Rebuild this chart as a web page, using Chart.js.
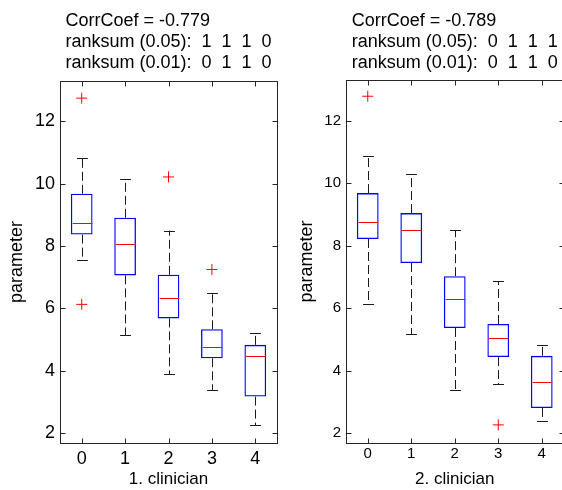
<!DOCTYPE html>
<html>
<head>
<meta charset="utf-8">
<script src="https://cdn.jsdelivr.net/npm/chart.js@4.4.1/dist/chart.umd.min.js"></script>
<style>
  html, body { margin: 0; padding: 0; background: #fff; overflow: hidden; width: 562px; height: 490px; }
  canvas { position: absolute; top: 0; }
  #left  { left: 0; }
  #right { left: 290px; }
</style>
</head>
<body>
<canvas id="left" width="290" height="490"></canvas>
<canvas id="right" width="280" height="490"></canvas>
<script>
const CATEGORIES = ["0", "1", "2", "3", "4"]
const FONT = "'Liberation Sans', Arial, sans-serif"

// 1. clinician
const c1Text   = ["CorrCoef = -0.779", "ranksum (0.05):  1  1  1  0", "ranksum (0.01):  0  1  1  0"]
const c1Low    = [7.54, 5.14, 3.89, 3.38, 2.25]
const c1Q1     = [8.37, 7.06, 5.68, 4.40, 3.17]
const c1Median = [8.75, 8.08, 6.35, 4.75, 4.47]
const c1Q3     = [9.68, 8.91, 7.08, 5.33, 4.83]
const c1High   = [10.83, 10.16, 8.50, 6.51, 5.21]
const c1OutCat = ["0", "0", "2", "3"]
const c1OutVal = [12.75, 6.13, 10.22, 7.25]

// 2. clinician
const c2Text   = ["CorrCoef = -0.789", "ranksum (0.05):  0  1  1  1", "ranksum (0.01):  0  1  1  0"]
const c2Low    = [6.13, 5.17, 3.38, 3.57, 2.38]
const c2Q1     = [8.21, 7.44, 5.36, 4.43, 2.80]
const c2Median = [8.75, 8.50, 6.29, 5.04, 3.63]
const c2Q3     = [9.68, 9.04, 7.02, 5.49, 4.47]
const c2High   = [10.86, 10.29, 8.50, 6.86, 4.83]
const c2OutCat = ["0", "3"]
const c2OutVal = [12.78, 2.26]

// whiskers, caps and median lines, placed through the chart scales
const boxExtras = {
  id: "boxExtras",
  afterDatasetsDraw(chart, args, opts) {
    const { ctx, scales: { x, y } } = chart
    const step = x.getPixelForValue(1) - x.getPixelForValue(0)
    const half = step * 0.25
    const cap  = step * 0.125
    ctx.save()
    ctx.lineWidth = 1
    opts.median.forEach((m, i) => {
      const cx = Math.round(x.getPixelForValue(i)) + 0.5
      const yLow = y.getPixelForValue(opts.low[i]), yQ1 = y.getPixelForValue(opts.q1[i])
      const yQ3 = y.getPixelForValue(opts.q3[i]), yHigh = y.getPixelForValue(opts.high[i])
      ctx.strokeStyle = "#1a1a1a"
      ctx.setLineDash([9, 4])
      ctx.beginPath()
      ctx.moveTo(cx, yQ3); ctx.lineTo(cx, yHigh)
      ctx.moveTo(cx, yQ1); ctx.lineTo(cx, yLow)
      ctx.stroke()
      ctx.setLineDash([])
      ctx.beginPath()
      ctx.moveTo(cx - cap, Math.round(yHigh) + 0.5); ctx.lineTo(cx + cap, Math.round(yHigh) + 0.5)
      ctx.moveTo(cx - cap, Math.round(yLow) + 0.5);  ctx.lineTo(cx + cap, Math.round(yLow) + 0.5)
      ctx.stroke()
      const ym = Math.round(y.getPixelForValue(m)) + 0.5
      ctx.strokeStyle = "#ff0000"
      ctx.beginPath()
      ctx.moveTo(cx - half + 1, ym); ctx.lineTo(cx + half - 1, ym)
      ctx.stroke()
    })
    ctx.restore()
  }
}

// MATLAB-like box frame with inward ticks on all four sides
const frame = {
  id: "frame",
  afterDraw(chart) {
    const { ctx, chartArea: a, scales: { x, y } } = chart
    const L = Math.round(a.left) + 0.5, R = Math.round(a.right) + 0.5
    const T = Math.round(a.top) + 0.5,  B = Math.round(a.bottom) + 0.5
    ctx.save()
    ctx.strokeStyle = "#262626"
    ctx.lineWidth = 1
    ctx.strokeRect(L, T, R - L, B - T)
    ctx.beginPath()
    x.ticks.forEach((t, i) => {
      const px = Math.round(x.getPixelForTick(i)) + 0.5
      ctx.moveTo(px, B); ctx.lineTo(px, B - 5)
      ctx.moveTo(px, T); ctx.lineTo(px, T + 5)
    })
    y.ticks.forEach(t => {
      const py = Math.round(y.getPixelForValue(t.value)) + 0.5
      ctx.moveTo(L, py); ctx.lineTo(L + 5, py)
      ctx.moveTo(R, py); ctx.lineTo(R - 5, py)
    })
    ctx.stroke()
    ctx.restore()
  }
}

// text block above the axes: lines left-aligned, block centred on the plot
const textBlock = {
  id: "textBlock",
  afterDraw(chart, args, opts) {
    const { ctx, chartArea: a } = chart
    ctx.save()
    ctx.font = "18px " + FONT
    ctx.fillStyle = "#000"
    ctx.textBaseline = "alphabetic"
    ctx.textAlign = "left"
    const w = Math.max(...opts.lines.map(s => ctx.measureText(s).width))
    const x0 = (a.left + a.right) / 2 - w / 2
    opts.lines.forEach((s, i) => ctx.fillText(s, x0, 25.5 + i * 21))
    ctx.restore()
  }
}

function makePanel(id, p) {
  return new Chart(document.getElementById(id), {
    type: "bar",
    data: {
      labels: CATEGORIES,
      datasets: [
        {
          type: "bar",
          data: p.q1.map((v, i) => [v, p.q3[i]]),
          backgroundColor: "rgba(0,0,0,0)",
          borderColor: "#0000ff",
          borderWidth: 1.3,
          borderSkipped: false,
          categoryPercentage: 1,
          barPercentage: 0.5
        },
        {
          type: "scatter",
          data: p.outCat.map((c, i) => ({ x: c, y: p.outVal[i] })),
          pointStyle: "cross",
          pointRadius: 5.5,
          pointBorderColor: "#ff0000",
          pointBorderWidth: 1
        }
      ]
    },
    options: {
      responsive: false,
      animation: false,
      events: [],
      layout: { padding: { top: p.top, right: p.right, bottom: 0, left: 0 } },
      plugins: {
        legend:  { display: false },
        tooltip: { enabled: false },
        boxExtras: { low: p.low, q1: p.q1, median: p.median, q3: p.q3, high: p.high },
        textBlock: { lines: p.lines }
      },
      scales: {
        x: {
          grid:   { display: false, drawTicks: false },
          border: { display: false },
          ticks:  { color: "#000", padding: p.xPad, font: { family: FONT, size: p.tickSize } },
          title:  { display: true, text: p.xTitle, color: "#000", padding: { top: 0, bottom: 0 },
                    font: { family: FONT, size: 17 } },
          afterFit: s => { s.height = 47 }
        },
        y: {
          min: 1.68,
          max: 13.3,
          grid:   { display: false, drawTicks: false },
          border: { display: false },
          ticks:  { stepSize: 2, includeBounds: false, color: "#000", padding: 5,
                    font: { family: FONT, size: p.tickSize } },
          title:  { display: true, text: "parameter", color: "#000", padding: { top: 6, bottom: 0 },
                    font: { family: FONT, size: 18 } },
          afterFit: s => { s.width = p.yWidth }
        }
      }
    },
    plugins: [boxExtras, frame, textBlock]
  })
}

makePanel("left", {
  lines: c1Text, low: c1Low, q1: c1Q1, median: c1Median, q3: c1Q3, high: c1High,
  outCat: c1OutCat, outVal: c1OutVal, xTitle: "1. clinician",
  top: 81, right: 13, yWidth: 60, tickSize: 18, xPad: 5
})

makePanel("right", {
  lines: c2Text, low: c2Low, q1: c2Q1, median: c2Median, q3: c2Q3, high: c2High,
  outCat: c2OutCat, outVal: c2OutVal, xTitle: "2. clinician",
  top: 80, right: 5, yWidth: 56, tickSize: 15, xPad: 2
})
</script>
</body>
</html>
